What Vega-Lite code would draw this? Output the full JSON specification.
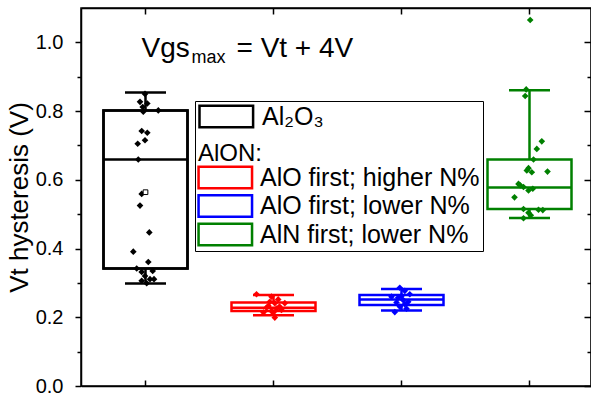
{
  "$schema": "https://vega.github.io/schema/vega-lite/v6.json",
  "width": 510,
  "height": 378,
  "autosize": {"type": "none"},
  "padding": {"left": 81, "top": 8, "right": 0, "bottom": 12},
  "config": {
    "font": "Liberation Sans",
    "view": {"stroke": "black", "strokeWidth": 1.5},
    "axis": {"grid": false, "domainColor": "black", "tickColor": "black", "labelColor": "black", "titleColor": "black", "domainWidth": 1.5, "tickWidth": 1.5}
  },
  "datasets": {
    "stats": [
      {"group": "Al₂O₃", "lo": 0.298, "q1": 0.342, "median": 0.659, "q3": 0.802, "hi": 0.854},
      {"group": "AlO first; higher N%", "lo": 0.206, "q1": 0.218, "median": 0.228, "q3": 0.243, "hi": 0.265},
      {"group": "AlO first; lower N%", "lo": 0.220, "q1": 0.236, "median": 0.252, "q3": 0.265, "hi": 0.282},
      {"group": "AlN first; lower N%", "lo": 0.489, "q1": 0.515, "median": 0.578, "q3": 0.659, "hi": 0.861}
    ],
    "mean": [
      {"group": "Al₂O₃", "value": 0.564}
    ],
    "points": [
      {"group": "Al₂O₃", "value": 0.850, "jitter": -0.5},
      {"group": "Al₂O₃", "value": 0.827, "jitter": -5.5},
      {"group": "Al₂O₃", "value": 0.822, "jitter": 1.8},
      {"group": "Al₂O₃", "value": 0.812, "jitter": -2.8},
      {"group": "Al₂O₃", "value": 0.798, "jitter": -2.2},
      {"group": "Al₂O₃", "value": 0.802, "jitter": 12.8},
      {"group": "Al₂O₃", "value": 0.742, "jitter": -3.8},
      {"group": "Al₂O₃", "value": 0.737, "jitter": 1.8},
      {"group": "Al₂O₃", "value": 0.715, "jitter": -0.5},
      {"group": "Al₂O₃", "value": 0.705, "jitter": -7.8},
      {"group": "Al₂O₃", "value": 0.659, "jitter": -7.2},
      {"group": "Al₂O₃", "value": 0.559, "jitter": -3.8},
      {"group": "Al₂O₃", "value": 0.525, "jitter": -5.5},
      {"group": "Al₂O₃", "value": 0.447, "jitter": 3.8},
      {"group": "Al₂O₃", "value": 0.391, "jitter": -12.2},
      {"group": "Al₂O₃", "value": 0.361, "jitter": 2.8},
      {"group": "Al₂O₃", "value": 0.342, "jitter": -8.8},
      {"group": "Al₂O₃", "value": 0.332, "jitter": -3.8},
      {"group": "Al₂O₃", "value": 0.335, "jitter": 7.2},
      {"group": "Al₂O₃", "value": 0.320, "jitter": -0.5},
      {"group": "Al₂O₃", "value": 0.311, "jitter": 4.5},
      {"group": "Al₂O₃", "value": 0.306, "jitter": -3.8},
      {"group": "Al₂O₃", "value": 0.311, "jitter": 8.5},
      {"group": "Al₂O₃", "value": 0.299, "jitter": 1.2},
      {"group": "AlO first; higher N%", "value": 0.267, "jitter": -17},
      {"group": "AlO first; higher N%", "value": 0.260, "jitter": -2},
      {"group": "AlO first; higher N%", "value": 0.252, "jitter": 4.7},
      {"group": "AlO first; higher N%", "value": 0.245, "jitter": -3.7},
      {"group": "AlO first; higher N%", "value": 0.241, "jitter": 1.3},
      {"group": "AlO first; higher N%", "value": 0.241, "jitter": 11.3},
      {"group": "AlO first; higher N%", "value": 0.233, "jitter": -5},
      {"group": "AlO first; higher N%", "value": 0.231, "jitter": 6},
      {"group": "AlO first; higher N%", "value": 0.228, "jitter": -7},
      {"group": "AlO first; higher N%", "value": 0.225, "jitter": 3},
      {"group": "AlO first; higher N%", "value": 0.221, "jitter": 8},
      {"group": "AlO first; higher N%", "value": 0.218, "jitter": -2},
      {"group": "AlO first; higher N%", "value": 0.214, "jitter": -10},
      {"group": "AlO first; higher N%", "value": 0.214, "jitter": 0},
      {"group": "AlO first; higher N%", "value": 0.199, "jitter": 1.3},
      {"group": "AlO first; lower N%", "value": 0.286, "jitter": -1.7},
      {"group": "AlO first; lower N%", "value": 0.277, "jitter": 3.3},
      {"group": "AlO first; lower N%", "value": 0.267, "jitter": 8.3},
      {"group": "AlO first; lower N%", "value": 0.262, "jitter": 0},
      {"group": "AlO first; lower N%", "value": 0.260, "jitter": -10},
      {"group": "AlO first; lower N%", "value": 0.257, "jitter": -3.3},
      {"group": "AlO first; lower N%", "value": 0.250, "jitter": 1.7},
      {"group": "AlO first; lower N%", "value": 0.245, "jitter": 6.7},
      {"group": "AlO first; lower N%", "value": 0.243, "jitter": -5},
      {"group": "AlO first; lower N%", "value": 0.238, "jitter": 3.3},
      {"group": "AlO first; lower N%", "value": 0.231, "jitter": -1.7},
      {"group": "AlO first; lower N%", "value": 0.225, "jitter": 5},
      {"group": "AlO first; lower N%", "value": 0.215, "jitter": -6.7},
      {"group": "AlN first; lower N%", "value": 1.065, "jitter": 0.7},
      {"group": "AlN first; lower N%", "value": 0.863, "jitter": -3.3},
      {"group": "AlN first; lower N%", "value": 0.844, "jitter": -4.3},
      {"group": "AlN first; lower N%", "value": 0.712, "jitter": 12.3},
      {"group": "AlN first; lower N%", "value": 0.690, "jitter": 7.3},
      {"group": "AlN first; lower N%", "value": 0.659, "jitter": 4},
      {"group": "AlN first; lower N%", "value": 0.634, "jitter": -1},
      {"group": "AlN first; lower N%", "value": 0.627, "jitter": -2.7},
      {"group": "AlN first; lower N%", "value": 0.622, "jitter": 2.3},
      {"group": "AlN first; lower N%", "value": 0.624, "jitter": 18},
      {"group": "AlN first; lower N%", "value": 0.588, "jitter": -11},
      {"group": "AlN first; lower N%", "value": 0.584, "jitter": -9.3},
      {"group": "AlN first; lower N%", "value": 0.579, "jitter": -6},
      {"group": "AlN first; lower N%", "value": 0.574, "jitter": 3.3},
      {"group": "AlN first; lower N%", "value": 0.569, "jitter": -1},
      {"group": "AlN first; lower N%", "value": 0.549, "jitter": -15},
      {"group": "AlN first; lower N%", "value": 0.515, "jitter": -6},
      {"group": "AlN first; lower N%", "value": 0.513, "jitter": 9},
      {"group": "AlN first; lower N%", "value": 0.512, "jitter": 13.3},
      {"group": "AlN first; lower N%", "value": 0.504, "jitter": -1},
      {"group": "AlN first; lower N%", "value": 0.497, "jitter": 1.3},
      {"group": "AlN first; lower N%", "value": 0.488, "jitter": -6}
    ]
  },
  "layer": [
    {
      "data": {"name": "stats"},
      "mark": {"type": "bar", "filled": false, "strokeWidth": 2.5, "size": 84, "orient": "vertical"},
      "encoding": {
        "x": {"field": "group", "type": "nominal", "sort": null,
              "scale": {"type": "band", "domain": ["Al₂O₃", "AlO first; higher N%", "AlO first; lower N%", "AlN first; lower N%"], "range": [0.5, 512.5], "paddingInner": 0, "paddingOuter": 0},
              "axis": {"orient": "bottom", "labels": false, "title": null, "tickSize": -6, "domain": true}},
        "y": {"field": "q1", "type": "quantitative",
              "scale": {"domain": [0, 1.1], "nice": false, "zero": true},
              "axis": {"orient": "left", "values": [0, 0.2, 0.4, 0.6, 0.8, 1.0], "format": ".1f", "labelFontSize": 20, "labelPadding": 12, "tickSize": 6, "title": "Vt hysteresis (V)", "titleFontSize": 26, "titleFontWeight": "normal", "titlePadding": 3}},
        "y2": {"field": "q3"},
        "color": {"field": "group", "type": "nominal",
                  "scale": {"domain": ["Al₂O₃", "AlO first; higher N%", "AlO first; lower N%", "AlN first; lower N%"], "range": ["#000000", "#FF0000", "#0000FF", "#008000"]},
                  "legend": {"values": ["AlO first; higher N%", "AlO first; lower N%", "AlN first; lower N%"],
                             "orient": "none", "legendX": 114, "legendY": 93,
                             "title": ["\u00a0", "AlON:"], "titleFontSize": 24, "titleFontWeight": "normal", "titleLineHeight": 38, "titlePadding": -1, "titleColor": "black",
                             "symbolType": "M-1.1,-1H3.567V1H-1.1Z M-0.89,-0.79V0.79H3.357V-0.79Z", "symbolSize": 576, "symbolStrokeWidth": 0,
                             "labelFontSize": 25, "labelColor": "black", "labelOffset": 37, "labelLimit": 400, "rowPadding": 2.5,
                             "padding": 3, "strokeColor": "black", "fillColor": "white"}}
      }
    },
    {
      "data": {"name": "stats"},
      "transform": [{"filter": "datum.group === 'Al₂O₃'"}],
      "mark": {"type": "bar", "filled": false, "strokeWidth": 2.5, "size": 84, "orient": "vertical"},
      "encoding": {
        "x": {"field": "group", "type": "nominal", "sort": null, "axis": null},
        "y": {"field": "q1", "type": "quantitative", "axis": null},
        "y2": {"field": "q3"},
        "stroke": {"field": "group", "type": "nominal",
                   "scale": {"domain": ["Al₂O₃"], "range": ["#000000"]},
                   "legend": {"orient": "none", "legendX": 117, "legendY": 95, "title": null,
                              "symbolType": "M-1,-0.9H3.467V0.9H-1Z", "symbolSize": 576, "symbolStrokeWidth": 2.5,
                              "labelFontSize": 25, "labelColor": "black", "labelOffset": 37, "labelLimit": 400, "padding": 0}}
      }
    },
    {
      "data": {"name": "stats"},
      "mark": {"type": "rule", "strokeWidth": 2.5},
      "encoding": {
        "x": {"field": "group", "type": "nominal", "sort": null,
              "axis": {"orient": "top", "labels": false, "title": null, "tickSize": -6, "domain": true}},
        "y": {"field": "lo", "type": "quantitative",
              "axis": {"orient": "left", "values": [0.1, 0.3, 0.5, 0.7, 0.9], "labels": false, "tickSize": 4, "title": null, "domain": false}},
        "y2": {"field": "q1"},
        "color": {"field": "group", "type": "nominal"}
      }
    },
    {
      "data": {"name": "stats"},
      "mark": {"type": "rule", "strokeWidth": 2.5},
      "encoding": {
        "x": {"field": "group", "type": "nominal", "sort": null, "axis": null},
        "y": {"field": "q3", "type": "quantitative",
              "axis": {"orient": "right", "values": [0, 0.2, 0.4, 0.6, 0.8, 1.0], "labels": false, "tickSize": -7, "title": null, "domain": true}},
        "y2": {"field": "hi"},
        "color": {"field": "group", "type": "nominal"}
      }
    },
    {
      "data": {"name": "stats"},
      "mark": {"type": "tick", "size": 41, "thickness": 2.5, "opacity": 1},
      "encoding": {
        "x": {"field": "group", "type": "nominal", "sort": null, "axis": null},
        "y": {"field": "lo", "type": "quantitative",
              "axis": {"orient": "right", "values": [0.1, 0.3, 0.5, 0.7, 0.9], "labels": false, "tickSize": -4, "title": null, "domain": false}},
        "fill": {"field": "group", "type": "nominal",
                 "scale": {"domain": ["Al₂O₃", "AlO first; higher N%", "AlO first; lower N%", "AlN first; lower N%"], "range": ["#000000", "#FF0000", "#0000FF", "#008000"]},
                 "legend": null}
      }
    },
    {
      "data": {"name": "stats"},
      "mark": {"type": "tick", "size": 41, "thickness": 2.5, "opacity": 1},
      "encoding": {
        "x": {"field": "group", "type": "nominal", "sort": null, "axis": null},
        "y": {"field": "hi", "type": "quantitative", "axis": null},
        "fill": {"field": "group", "type": "nominal", "legend": null}
      }
    },
    {
      "data": {"name": "stats"},
      "mark": {"type": "tick", "size": 84, "thickness": 2.5, "opacity": 1},
      "encoding": {
        "x": {"field": "group", "type": "nominal", "sort": null, "axis": null},
        "y": {"field": "median", "type": "quantitative", "axis": null},
        "fill": {"field": "group", "type": "nominal", "legend": null}
      }
    },
    {
      "data": {"name": "points"},
      "mark": {"type": "point", "shape": "diamond", "filled": true, "size": 44, "opacity": 1, "strokeWidth": 0},
      "encoding": {
        "x": {"field": "group", "type": "nominal", "sort": null, "axis": null},
        "xOffset": {"field": "jitter", "type": "quantitative", "scale": {"domain": [-20, 20], "range": [44, 84]}},
        "y": {"field": "value", "type": "quantitative", "axis": null},
        "fill": {"field": "group", "type": "nominal", "legend": null}
      }
    },
    {
      "data": {"name": "mean"},
      "mark": {"type": "point", "shape": "square", "filled": true, "size": 22, "fill": "white", "stroke": "black", "strokeWidth": 1, "opacity": 1},
      "encoding": {
        "x": {"field": "group", "type": "nominal", "sort": null, "axis": null},
        "y": {"field": "value", "type": "quantitative", "axis": null}
      }
    },
    {
      "data": {"values": [{"label": "Vgs"}]},
      "mark": {"type": "text", "fontSize": 28, "align": "left", "baseline": "alphabetic", "dx": -4, "color": "black"},
      "encoding": {
        "x": {"datum": "Al₂O₃", "type": "nominal", "axis": null},
        "y": {"datum": 0.957, "type": "quantitative", "axis": null},
        "text": {"field": "label"}
      }
    },
    {
      "data": {"values": [{"label": "max"}]},
      "mark": {"type": "text", "fontSize": 18, "align": "left", "baseline": "alphabetic", "dx": 46, "dy": 6, "color": "black"},
      "encoding": {
        "x": {"datum": "Al₂O₃", "type": "nominal", "axis": null},
        "y": {"datum": 0.957, "type": "quantitative", "axis": null},
        "text": {"field": "label"}
      }
    },
    {
      "data": {"values": [{"label": "= Vt + 4V"}]},
      "mark": {"type": "text", "fontSize": 28, "align": "left", "baseline": "alphabetic", "dx": 91, "color": "black"},
      "encoding": {
        "x": {"datum": "Al₂O₃", "type": "nominal", "axis": null},
        "y": {"datum": 0.957, "type": "quantitative", "axis": null},
        "text": {"field": "label"}
      }
    }
  ],
  "resolve": {"axis": {"x": "independent", "y": "independent"}}
}
